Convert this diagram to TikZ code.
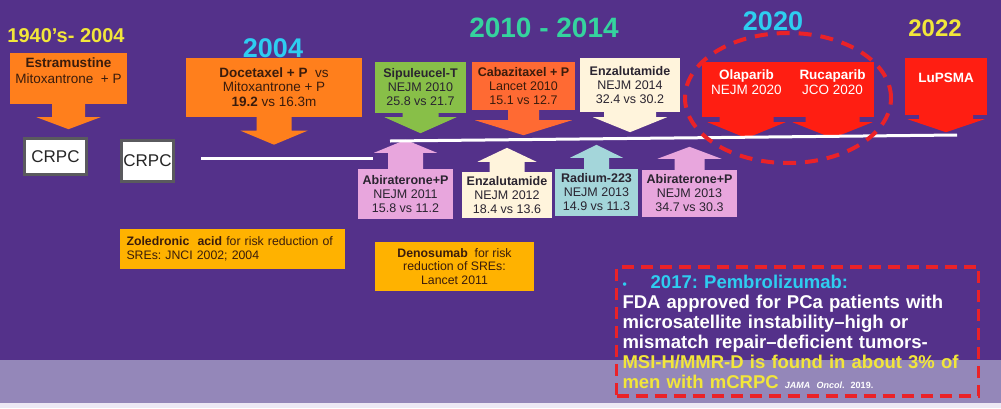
\documentclass[tikz,border=0pt]{standalone}
\usepackage{fontspec}
\setmainfont{Liberation Sans}
\usepackage{xcolor}
\usetikzlibrary{positioning,calc}
\frenchspacing
\definecolor{bgpurple}{HTML}{54318A}
\definecolor{bandpurple}{HTML}{9487B9}
\definecolor{stripgray}{HTML}{ECE8F4}
\definecolor{orangebox}{HTML}{FF7F1C}
\definecolor{cabared}{HTML}{FF6A33}
\definecolor{greenbox}{HTML}{88BF48}
\definecolor{creambox}{HTML}{FFF4DC}
\definecolor{pinkbox}{HTML}{E8A6DD}
\definecolor{tealbox}{HTML}{A4D6DA}
\definecolor{redbox}{HTML}{FF1E12}
\definecolor{goldbox}{HTML}{FFB200}
\definecolor{dashred}{HTML}{EA2228}
\definecolor{titleyellow}{HTML}{F2E63A}
\definecolor{titlecyan}{HTML}{2ECDF0}
\definecolor{titlegreen}{HTML}{35D39E}
\definecolor{inkbrown}{HTML}{3A1C0C}
\definecolor{inkdark}{HTML}{2A2430}
\definecolor{crpcgray}{HTML}{5A5A5E}

\begin{document}
\begin{tikzpicture}[
    x=1pt,y=-1pt,
    font=\fontsize{12.5}{14}\selectfont,
    title/.style={font=\fontsize{#1}{#1}\selectfont\bfseries},
    callout/.style={fill=#1,inner sep=0pt,align=center,text=inkdark},
    bigtext/.style={font=\fontsize{13.5}{15}\selectfont},
    crpc/.style={draw=crpcgray,line width=3pt,fill=white,inner sep=0pt,font=\fontsize{17}{17}\selectfont,text=black!85},
    srebox/.style={fill=goldbox,inner sep=0pt,text=inkbrown,font=\fontsize{12.3}{13.5}\selectfont},
    timeline/.style={white,line width=3pt}
  ]
    % background and lower band
    \fill[bgpurple] (0,0) rectangle (1001,408);
    \fill[bandpurple] (0,360) rectangle (1001,403);
    \fill[stripgray] (0,403) rectangle (1001,408);
    \useasboundingbox (0,0) rectangle (1001,408);

    % timeline
    \coordinate (lowa) at (201,158);
    \coordinate (lowb) at (373,158);
    \coordinate (upa) at (390,141);
    \coordinate (upb) at (957,135);

    \node[crpc,minimum width=62pt,minimum height=36pt] (crpca) at (55.5,156.5) {CRPC};
    \node[crpc,minimum width=52pt,minimum height=41pt] (crpcb) at (147.5,161) {CRPC};

    % drugs above the line
    \node[callout=orangebox,font=\fontsize{13.5}{16}\selectfont,text=inkbrown,minimum width=117pt,minimum height=51pt,text depth=15pt] (estr) at (68.5,78.5) {\textbf{Estramustine}\\Mitoxantrone~~+ P};
    \node[callout=orangebox,font=\fontsize{13.5}{14.5}\selectfont,text=inkbrown,minimum width=176pt,minimum height=59pt] (doce) at (274,87) {\textbf{Docetaxel + P}~~vs\\Mitoxantrone + P\\\textbf{19.2} vs 16.3m};
    \node[callout=greenbox,minimum width=91pt,minimum height=51pt] (sipu) at (420.5,87.5) {\textbf{Sipuleucel-T}\\NEJM 2010\\25.8 vs 21.7};
    \node[callout=cabared,text=inkbrown,minimum width=103pt,minimum height=48pt] (caba) at (523.5,86) {\textbf{Cabazitaxel + P}\\Lancet 2010\\15.1 vs 12.7};
    \node[callout=creambox,minimum width=100pt,minimum height=54pt] (enzb) at (630,85) {\textbf{Enzalutamide}\\NEJM 2014\\32.4 vs 30.2};
    \node[callout=redbox,bigtext,text=white,minimum width=89pt,minimum height=55pt,text depth=14pt] (olap) at (746.5,89.5) {\textbf{Olaparib}\\NEJM 2020};
    \node[callout=redbox,bigtext,text=white,minimum width=83pt,minimum height=55pt,text depth=14pt] (ruca) at (832.5,89.5) {\textbf{Rucaparib}\\JCO 2020};
    \node[callout=redbox,bigtext,text=white,minimum width=82pt,minimum height=57pt,text depth=17pt] (lups) at (946,86.5) {\textbf{LuPSMA}};

    % drugs below the line
    \node[callout=pinkbox,minimum width=95pt,minimum height=50pt] (abia) at (405.5,194) {\textbf{Abiraterone+P}\\NEJM 2011\\15.8 vs 11.2};
    \node[callout=creambox,minimum width=90pt,minimum height=46pt] (enza) at (507,195) {\textbf{Enzalutamide}\\NEJM 2012\\18.4 vs 13.6};
    \node[callout=tealbox,minimum width=83pt,minimum height=47pt] (radi) at (596.5,192.5) {\textbf{Radium-223}\\NEJM 2013\\14.9 vs 11.3};
    \node[callout=pinkbox,minimum width=95pt,minimum height=47pt] (abib) at (689.5,193.5) {\textbf{Abiraterone+P}\\NEJM 2013\\34.7 vs 30.3};

    % arrow parts: shaft half width, shaft length, head half width, head length
    \foreach \n/\s/\a/\h/\b/\c in {estr/16.5/13/32/12/orangebox, doce/17.5/14/33.5/14/orangebox,
        sipu/18/4/36/16/greenbox, caba/15.5/10/48.5/15/cabared, enzb/26/5/37/15/creambox,
        olap/27/5/39/16/redbox, ruca/27/5/40/16/redbox, lups/27/4/38.5/13/redbox}
      \fill[\c] ($(\n.south)+(-\s,-1)$) -- ++(0,\a+1) -- ++(\s-\h,0) -- ++(\h,\b)
        -- ++(\h,-\b) -- ++(\s-\h,0) -- ++(0,-\a-1) -- cycle;
    \foreach \n/\s/\a/\h/\b/\c in {abia/17.5/16/31.5/13/pinkbox, enza/17.5/10/29.5/14/creambox,
        radi/12.5/11/26.5/13/tealbox, abib/15/11/32/12/pinkbox}
      \fill[\c] ($(\n.north)+(-\s,1)$) -- ++(0,-\a-1) -- ++(\s-\h,0) -- ++(\h,-\b)
        -- ++(\h,\b) -- ++(\s-\h,0) -- ++(0,\a+1) -- cycle;

    \draw[timeline] (lowa) -- (lowb);
    \draw[timeline] (upa) -- (upb);

    % period titles
    \node[title=20,text=titleyellow] (t1940) at (66,36) {1940’s- 2004};
    \node[title=27,text=titlecyan] (t2004) at (273,48) {2004};
    \node[title=28,text=titlegreen] (t2010) at (544,28) {2010 - 2014};
    \node[title=27,text=titlecyan] (t2020) at (773,21) {2020};
    \node[title=24,text=titleyellow] (t2022) at (935,28) {2022};

    % bone agents
    \node[srebox,minimum width=225pt,minimum height=40pt,text width=212pt,align=left] (zole) at (232.5,249) {\textbf{Zoledronic~ acid} for risk reduction of\\SREs: JNCI 2002; 2004};
    \node[srebox,minimum width=159pt,minimum height=49pt,align=center] (deno) at (454.5,266.5) {\textbf{Denosumab}~ for risk\\reduction of SREs:\\Lancet 2011};

    % pembrolizumab note
    \node[draw=dashred,line width=3.5pt,dash pattern=on 12pt off 7pt,minimum width=362pt,minimum height=129pt,
          text width=350pt,align=left,inner sep=0pt,text=white,font=\fontsize{18.5}{20}\selectfont\bfseries] (pemb) at (797.5,331.5)
      {{\color{titlecyan}\fontsize{12}{12}\selectfont•\hspace{24pt}\fontsize{18.5}{20}\selectfont 2017: Pembrolizumab:}\\
       FDA approved for PCa patients with\\
       microsatellite instability–high or\\
       mismatch repair–deficient tumors-\\
       {\color{titleyellow}MSI-H/MMR-D is found in about 3\% of}\\
       {\color{titleyellow}men with mCRPC} {\fontsize{9}{10}\selectfont\textit{JAMA Oncol}. 2019.}};

    % PARP inhibitors
    \coordinate (parp) at (788,98);
    \draw[dashred,line width=4pt,dash pattern=on 13pt off 9pt] (parp) ellipse [x radius=103pt,y radius=65pt];
  \end{tikzpicture}
\end{document}
